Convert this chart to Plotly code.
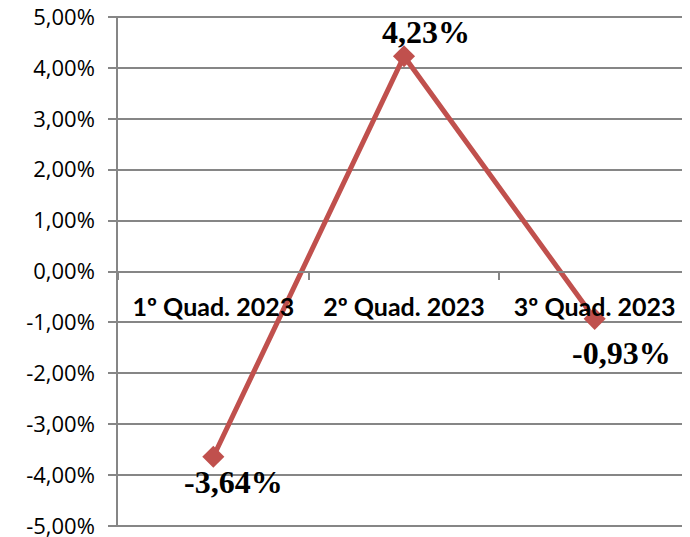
import plotly.graph_objects as go

quadrimestres = ["1º Quad. 2023", "2º Quad. 2023", "3º Quad. 2023"]
variacao = [-3.64, 4.23, -0.93]
rotulos = ["-3,64%", "4,23%", "-0,93%"]

y_ticks = [5, 4, 3, 2, 1, 0, -1, -2, -3, -4, -5]
y_tick_labels = ["5,00%", "4,00%", "3,00%", "2,00%", "1,00%", "0,00%",
                 "-1,00%", "-2,00%", "-3,00%", "-4,00%", "-5,00%"]

cinza = "#868686"
vermelho = "#C0504D"

fig = go.Figure()

fig.add_trace(
    go.Scatter(
        x=quadrimestres,
        y=variacao,
        mode="lines+markers",
        line=dict(color=vermelho, width=5),
        marker=dict(symbol="diamond", size=17, color=vermelho),
        showlegend=False,
        cliponaxis=False
    )
)

# rótulos de dados (abaixo/acima e à direita do ponto)
desloc = [(20, -25), (22, 24), (27, -34)]
for q, v, r, (dx, dy) in zip(quadrimestres, variacao, rotulos, desloc):
    fig.add_annotation(
        x=q, y=v, text="<b>" + r + "</b>",
        showarrow=False, xshift=dx, yshift=dy,
        font=dict(family="Liberation Serif", size=32, color="black")
    )

# a página tem 8px de margem no body: figura reduzida para caber na janela
fig.update_layout(
    width=682,
    height=529,
    margin=dict(l=110, r=0, t=8, b=10),
    plot_bgcolor="white",
    paper_bgcolor="white",
    font=dict(family="Open Sans", color="black"),
    xaxis=dict(
        type="category",
        range=[-0.5, 2.5],
        anchor="free",
        position=0.5,
        automargin=False,
        showline=True,
        linecolor=cinza,
        linewidth=1.5,
        ticks="outside",
        tickson="boundaries",
        ticklen=8,
        tickcolor=cinza,
        tickwidth=1.5,
        showgrid=False,
        ticklabelstandoff=14,
        tickfont=dict(family="Lato", size=25, weight="bold", color="black")
    ),
    yaxis=dict(
        range=[-5.02, 5.02],
        automargin=False,
        tickvals=y_ticks,
        ticktext=y_tick_labels,
        ticklabeloverflow="allow",
        showline=True,
        linecolor=cinza,
        linewidth=1.5,
        ticks="outside",
        ticklen=8,
        tickcolor=cinza,
        tickwidth=1.5,
        showgrid=True,
        gridcolor=cinza,
        gridwidth=1.5,
        zeroline=False,
        ticklabelstandoff=9,
        tickfont=dict(family="Open Sans", size=22, color="black")
    )
)

fig.write_html("out.html")
